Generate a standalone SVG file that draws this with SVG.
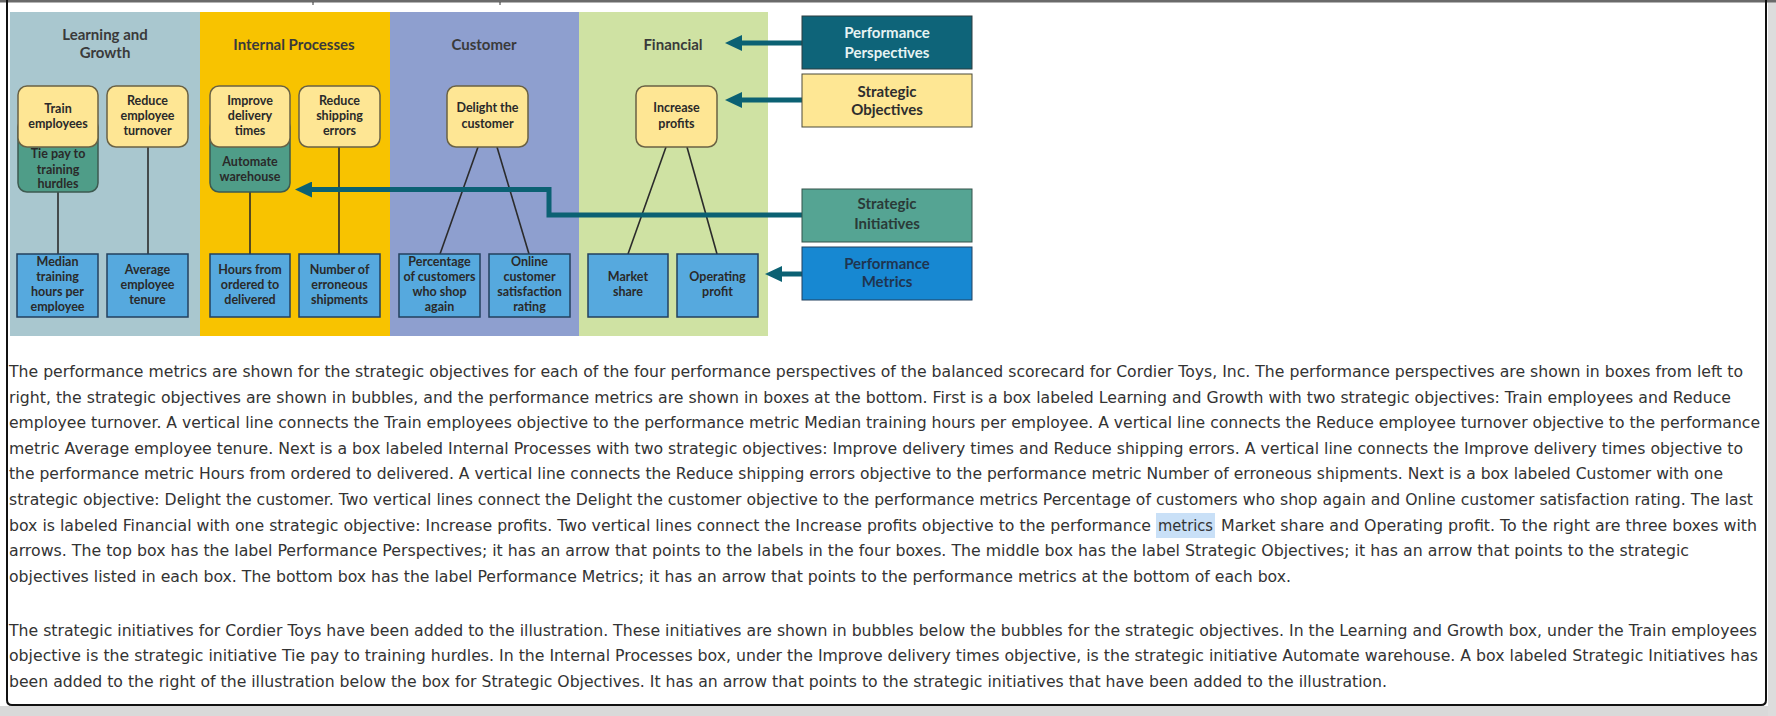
<svg xmlns="http://www.w3.org/2000/svg" width="1776" height="716" viewBox="0 0 1776 716">
<style>
.ttl{font-family:Lato,"Open Sans","Liberation Sans",sans-serif;font-weight:700;font-size:15px;fill:#3a3a3a;text-anchor:middle}
.bt{font-family:Lato,"Open Sans","Liberation Sans",sans-serif;font-weight:700;font-size:12.5px;fill:#2a2a2a;text-anchor:middle}
.rt{font-family:Lato,"Open Sans","Liberation Sans",sans-serif;font-weight:700;font-size:15px;text-anchor:middle}
.obj{fill:#fee694;stroke:#6a6244;stroke-width:1.5}
.ini{fill:#4f9d88;stroke:#3d5a50;stroke-width:1.5}
.met{fill:#56a9de;stroke:#23405e;stroke-width:1.5}
.con{stroke:#2b2b2b;stroke-width:1.6;fill:none}
.arr{stroke:#0b6173;stroke-width:5;fill:none;marker-end:url(#ah)}
.p{font-family:"DejaVu Sans",Verdana,sans-serif;font-size:15px;fill:#333}
</style>
<defs>
<marker id="ah" markerUnits="userSpaceOnUse" viewBox="0 0 17 16" refX="4" refY="8" markerWidth="17" markerHeight="16" orient="auto">
<path d="M0,0 L17,8 L0,16 z" fill="#0b6173"/>
</marker>
</defs>
<rect width="1776" height="716" fill="#fff"/>
<rect x="0" y="706" width="1776" height="10" fill="#d9d9d9"/>
<rect x="1768" y="0" width="8" height="716" fill="#dcdcdc"/>
<rect x="0" y="0" width="1776" height="2.5" fill="#6a6a6a"/>
<path d="M7,0 V700 Q7,705 12,705 H1761 Q1766,705 1766,700 V0" fill="none" stroke="#111" stroke-width="2"/>
<line x1="313" y1="2" x2="313" y2="5" stroke="#333" stroke-width="1"/>
<line x1="500" y1="2" x2="500" y2="5" stroke="#333" stroke-width="1"/>

<g id="panels">
<rect x="10" y="12" width="190" height="324" fill="#a9c7cf"/>
<rect x="200" y="12" width="190" height="324" fill="#f8c300"/>
<rect x="390" y="12" width="189" height="324" fill="#8e9fcf"/>
<rect x="579" y="12" width="189" height="324" fill="#cfe2a3"/>
<text class="ttl" x="105" y="40">Learning and</text>
<text class="ttl" x="105" y="58">Growth</text>
<text class="ttl" x="294" y="50">Internal Processes</text>
<text class="ttl" x="484" y="50">Customer</text>
<text class="ttl" x="673" y="50">Financial</text>
</g>

<g id="connectors">
<path class="con" d="M58,192 V254"/>
<path class="con" d="M148,147 V254"/>
<path class="con" d="M250,192 V254"/>
<path class="con" d="M339,147 V254"/>
<path class="con" d="M478,147 L440,254"/>
<path class="con" d="M497,147 L529,254"/>
<path class="con" d="M666,147 L628,254"/>
<path class="con" d="M687,147 L717,254"/>
<path class="arr" d="M802,43 H738"/>
<path class="arr" d="M802,100 H738"/>
<path class="arr" d="M802,215 H549 V189.5 H308"/>
<path class="arr" d="M802,274 H778"/>
</g>

<g id="init-tie-pay">
<rect class="ini" x="18" y="118" width="80" height="74" rx="9"/>
<text class="bt" x="58" y="158">Tie pay to</text>
<text class="bt" x="58" y="174">training</text>
<text class="bt" x="58" y="188">hurdles</text>
</g>
<g id="init-automate">
<rect class="ini" x="210" y="118" width="80" height="74" rx="9"/>
<text class="bt" x="250" y="166">Automate</text>
<text class="bt" x="250" y="181">warehouse</text>
</g>

<g id="obj-train">
<rect class="obj" x="18" y="86" width="80" height="61" rx="9"/>
<text class="bt" x="58" y="113">Train</text>
<text class="bt" x="58" y="128">employees</text>
</g>
<g id="obj-reduce-turnover">
<rect class="obj" x="107" y="86" width="81" height="61" rx="9"/>
<text class="bt" x="147.5" y="105">Reduce</text>
<text class="bt" x="147.5" y="120">employee</text>
<text class="bt" x="147.5" y="135">turnover</text>
</g>
<g id="obj-improve">
<rect class="obj" x="210" y="86" width="80" height="61" rx="9"/>
<text class="bt" x="250" y="105">Improve</text>
<text class="bt" x="250" y="120">delivery</text>
<text class="bt" x="250" y="135">times</text>
</g>
<g id="obj-shipping">
<rect class="obj" x="299" y="86" width="81" height="61" rx="9"/>
<text class="bt" x="339.5" y="105">Reduce</text>
<text class="bt" x="339.5" y="120">shipping</text>
<text class="bt" x="339.5" y="135">errors</text>
</g>
<g id="obj-delight">
<rect class="obj" x="447" y="86" width="81" height="61" rx="9"/>
<text class="bt" x="487.5" y="112">Delight the</text>
<text class="bt" x="487.5" y="128">customer</text>
</g>
<g id="obj-profits">
<rect class="obj" x="636" y="86" width="81" height="61" rx="9"/>
<text class="bt" x="676.5" y="112">Increase</text>
<text class="bt" x="676.5" y="128">profits</text>
</g>

<g id="met-median">
<rect class="met" x="17" y="254" width="81" height="63"/>
<text class="bt" x="57.5" y="266">Median</text>
<text class="bt" x="57.5" y="281">training</text>
<text class="bt" x="57.5" y="296">hours per</text>
<text class="bt" x="57.5" y="311">employee</text>
</g>
<g id="met-average">
<rect class="met" x="107" y="254" width="81" height="63"/>
<text class="bt" x="147.5" y="274">Average</text>
<text class="bt" x="147.5" y="289">employee</text>
<text class="bt" x="147.5" y="304">tenure</text>
</g>
<g id="met-hours">
<rect class="met" x="210" y="254" width="80" height="63"/>
<text class="bt" x="250" y="274">Hours from</text>
<text class="bt" x="250" y="289">ordered to</text>
<text class="bt" x="250" y="304">delivered</text>
</g>
<g id="met-number">
<rect class="met" x="299" y="254" width="81" height="63"/>
<text class="bt" x="339.5" y="274">Number of</text>
<text class="bt" x="339.5" y="289">erroneous</text>
<text class="bt" x="339.5" y="304">shipments</text>
</g>
<g id="met-percentage">
<rect class="met" x="399" y="254" width="81" height="63"/>
<text class="bt" x="439.5" y="266">Percentage</text>
<text class="bt" x="439.5" y="281">of customers</text>
<text class="bt" x="439.5" y="296">who shop</text>
<text class="bt" x="439.5" y="311">again</text>
</g>
<g id="met-online">
<rect class="met" x="489" y="254" width="81" height="63"/>
<text class="bt" x="529.5" y="266">Online</text>
<text class="bt" x="529.5" y="281">customer</text>
<text class="bt" x="529.5" y="296">satisfaction</text>
<text class="bt" x="529.5" y="311">rating</text>
</g>
<g id="met-market">
<rect class="met" x="588" y="254" width="80" height="63"/>
<text class="bt" x="628" y="281">Market</text>
<text class="bt" x="628" y="296">share</text>
</g>
<g id="met-operating">
<rect class="met" x="677" y="254" width="81" height="63"/>
<text class="bt" x="717.5" y="281">Operating</text>
<text class="bt" x="717.5" y="296">profit</text>
</g>

<g id="legend-perspectives">
<rect x="802" y="16" width="170" height="53" fill="#0e6479" stroke="#2d3d40" stroke-width="1"/>
<text class="rt" x="887" y="38" fill="#e6f3f3">Performance</text>
<text class="rt" x="887" y="58" fill="#e6f3f3">Perspectives</text>
</g>
<g id="legend-objectives">
<rect x="802" y="74" width="170" height="53" fill="#fee794" stroke="#4a4a3a" stroke-width="1"/>
<text class="rt" x="887" y="97" fill="#2e2e2e">Strategic</text>
<text class="rt" x="887" y="115" fill="#2e2e2e">Objectives</text>
</g>
<g id="legend-initiatives">
<rect x="802" y="189" width="170" height="53" fill="#55a493" stroke="#34524a" stroke-width="1"/>
<text class="rt" x="887" y="209" fill="#2a3a38">Strategic</text>
<text class="rt" x="887" y="229" fill="#2a3a38">Initiatives</text>
</g>
<g id="legend-metrics">
<rect x="802" y="247" width="170" height="53" fill="#1788d2" stroke="#22405e" stroke-width="1"/>
<text class="rt" x="887" y="269" fill="#1f3550">Performance</text>
<text class="rt" x="887" y="287" fill="#1f3550">Metrics</text>
</g>

<g id="description">
<rect x="1156" y="513" width="59" height="25" fill="#c9e0f7"/>
<text class="p" x="9" y="377" textLength="1734" lengthAdjust="spacingAndGlyphs">The performance metrics are shown for the strategic objectives for each of the four performance perspectives of the balanced scorecard for Cordier Toys, Inc. The performance perspectives are shown in boxes from left to</text>
<text class="p" x="9" y="402.6" textLength="1722" lengthAdjust="spacingAndGlyphs">right, the strategic objectives are shown in bubbles, and the performance metrics are shown in boxes at the bottom. First is a box labeled Learning and Growth with two strategic objectives: Train employees and Reduce</text>
<text class="p" x="9" y="428.2" textLength="1751" lengthAdjust="spacingAndGlyphs">employee turnover. A vertical line connects the Train employees objective to the performance metric Median training hours per employee. A vertical line connects the Reduce employee turnover objective to the performance</text>
<text class="p" x="9" y="453.8" textLength="1734" lengthAdjust="spacingAndGlyphs">metric Average employee tenure. Next is a box labeled Internal Processes with two strategic objectives: Improve delivery times and Reduce shipping errors. A vertical line connects the Improve delivery times objective to</text>
<text class="p" x="9" y="479.4" textLength="1714" lengthAdjust="spacingAndGlyphs">the performance metric Hours from ordered to delivered. A vertical line connects the Reduce shipping errors objective to the performance metric Number of erroneous shipments. Next is a box labeled Customer with one</text>
<text class="p" x="9" y="505" textLength="1744" lengthAdjust="spacingAndGlyphs">strategic objective: Delight the customer. Two vertical lines connect the Delight the customer objective to the performance metrics Percentage of customers who shop again and Online customer satisfaction rating. The last</text>
<text class="p" x="9" y="530.6" textLength="1142" lengthAdjust="spacingAndGlyphs">box is labeled Financial with one strategic objective: Increase profits. Two vertical lines connect the Increase profits objective to the performance</text>
<text class="p" x="1158" y="530.6" textLength="55" lengthAdjust="spacingAndGlyphs">metrics</text>
<text class="p" x="1221" y="530.6" textLength="536" lengthAdjust="spacingAndGlyphs">Market share and Operating profit. To the right are three boxes with</text>
<text class="p" x="9" y="556.2" textLength="1680" lengthAdjust="spacingAndGlyphs">arrows. The top box has the label Performance Perspectives; it has an arrow that points to the labels in the four boxes. The middle box has the label Strategic Objectives; it has an arrow that points to the strategic</text>
<text class="p" x="9" y="581.8" textLength="1282" lengthAdjust="spacingAndGlyphs">objectives listed in each box. The bottom box has the label Performance Metrics; it has an arrow that points to the performance metrics at the bottom of each box.</text>
<text class="p" x="9" y="636" textLength="1748" lengthAdjust="spacingAndGlyphs">The strategic initiatives for Cordier Toys have been added to the illustration. These initiatives are shown in bubbles below the bubbles for the strategic objectives. In the Learning and Growth box, under the Train employees</text>
<text class="p" x="9" y="661.3" textLength="1749" lengthAdjust="spacingAndGlyphs">objective is the strategic initiative Tie pay to training hurdles. In the Internal Processes box, under the Improve delivery times objective, is the strategic initiative Automate warehouse. A box labeled Strategic Initiatives has</text>
<text class="p" x="9" y="686.5" textLength="1378" lengthAdjust="spacingAndGlyphs">been added to the right of the illustration below the box for Strategic Objectives. It has an arrow that points to the strategic initiatives that have been added to the illustration.</text>
</g>
</svg>
